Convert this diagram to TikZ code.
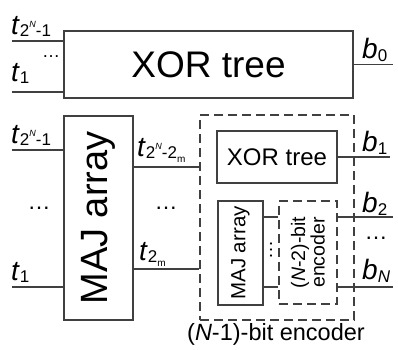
\documentclass[tikz,border=0pt]{standalone}
\usepackage{fontspec}
\setmainfont{Liberation Sans}
\usetikzlibrary{positioning}

\newcommand{\fsz}[1]{\fontsize{#1}{#1}\selectfont}
\newcommand{\tvar}[1]{\textit{t}\raisebox{-0.08em}{\fsz{17}#1}}
\newcommand{\bvar}[1]{\textit{b}\raisebox{-0.12em}{\fsz{17}#1}}
\newcommand{\twoN}{2\raisebox{0.5em}{\fsz{9}\textit{N}}}
\newcommand{\subm}{\raisebox{-0.25em}{\fsz{10}m}}

\begin{document}
\begin{tikzpicture}[x=1pt, y=-1pt,
    box/.style={draw=black!75, line width=1.3pt, inner sep=0pt},
    dbox/.style={box, dash pattern=on 9pt off 5pt},
    wire/.style={draw=black!75, line width=1.3pt},
    lbl/.style={inner sep=0pt, font=\fsz{28}},
    dots/.style={inner sep=0pt, font=\fsz{23}}]

    \useasboundingbox (0,0) rectangle (398,349);

    % Top XOR tree
    \node[box, minimum width=289pt, minimum height=67pt, font=\fsz{37}] (xor0) at (208.5,64.5) {XOR tree};
    \coordinate (a1) at (12,41);
    \coordinate (a2) at (12,92);
    \coordinate (o0) at (393,64.5);
    \draw[wire] (a1) -- (a1 -| xor0.west);
    \draw[wire] (a2) -- (a2 -| xor0.west);
    \draw[wire] (xor0) -- (o0);
    \node[lbl, anchor=base west] (ta1) at (11,34) {\tvar{\twoN-1}};
    \node[lbl, anchor=base west] (ta2) at (11,81) {\tvar{1}};
    \node[dots, font=\fsz{18}] (da) at (51,57) {…};
    \node[lbl, anchor=base west] (lb0) at (362,58) {\bvar{0}};

    % MAJ array
    \node[box, minimum width=69pt, minimum height=204pt,
          label={[rotate=90, font=\fsz{38}]center:MAJ array}] (maj) at (98.5,218) {};
    \coordinate (c1) at (12,150);
    \coordinate (c2) at (12,287);
    \draw[wire] (c1) -- (c1 -| maj.west);
    \draw[wire] (c2) -- (c2 -| maj.west);
    \node[lbl, anchor=base west] (tc1) at (11,143) {\tvar{\twoN-1}};
    \node[lbl, anchor=base west] (tc2) at (11,280) {\tvar{1}};
    \node[dots] (dc) at (39,208) {…};

    % (N-1)-bit encoder
    \node[dbox, minimum width=154pt, minimum height=205pt] (enc) at (277,217.5) {};
    \node[inner sep=0pt, font=\fsz{23.5}, anchor=base] (enclab) at (276,340) {(\textit{N}-1)-bit encoder};
    \coordinate (m1) at (170,167);
    \coordinate (m2) at (170,269);
    \draw[wire] (m1 -| maj.east) -- (m1 -| enc.west);
    \draw[wire] (m2 -| maj.east) -- (m2 -| enc.west);
    \node[lbl, anchor=base west] (tm1) at (137,156) {\tvar{\twoN-2\subm}};
    \node[lbl, anchor=base west] (tm2) at (139,260) {\tvar{2\subm}};
    \node[dots] (dm) at (166,208) {…};

    \node[box, minimum width=120pt, minimum height=52pt, font=\fsz{24}] (xor1) at (277,157) {XOR tree};
    \node[box, minimum width=45pt, minimum height=104pt,
          label={[rotate=90, font=\fsz{20.5}]center:MAJ array}] (maj1) at (240.5,253) {};
    \node[dbox, minimum width=58pt, minimum height=103pt,
          label={[rotate=90, font=\fsz{19.5}, align=center]center:{(\textit{N}-2)-bit\\encoder}}] (enc1) at (308,252.5) {};
    \coordinate (n1) at (270,217);
    \coordinate (n2) at (270,287);
    \draw[wire] (n1 -| maj1.east) -- (n1 -| enc1.west);
    \draw[wire] (n2 -| maj1.east) -- (n2 -| enc1.west);
    \node[dots, rotate=90, font=\fsz{19}] (dn) at (271,250) {…};

    % Outputs
    \coordinate (o1) at (390,157);
    \coordinate (o2) at (393,217);
    \coordinate (o3) at (393,287);
    \draw[wire] (xor1) -- (o1);
    \draw[wire] (o2 -| enc1.east) -- (o2);
    \draw[wire] (o3 -| enc1.east) -- (o3);
    \node[lbl, anchor=base west] (lb1) at (362,151) {\bvar{1}};
    \node[lbl, anchor=base west] (lb2) at (362,212) {\bvar{2}};
    \node[lbl, anchor=base west] (lbn) at (362,279) {\bvar{\textit{N}}};
    \node[dots] (dout) at (376,238) {…};
\end{tikzpicture}
\end{document}
